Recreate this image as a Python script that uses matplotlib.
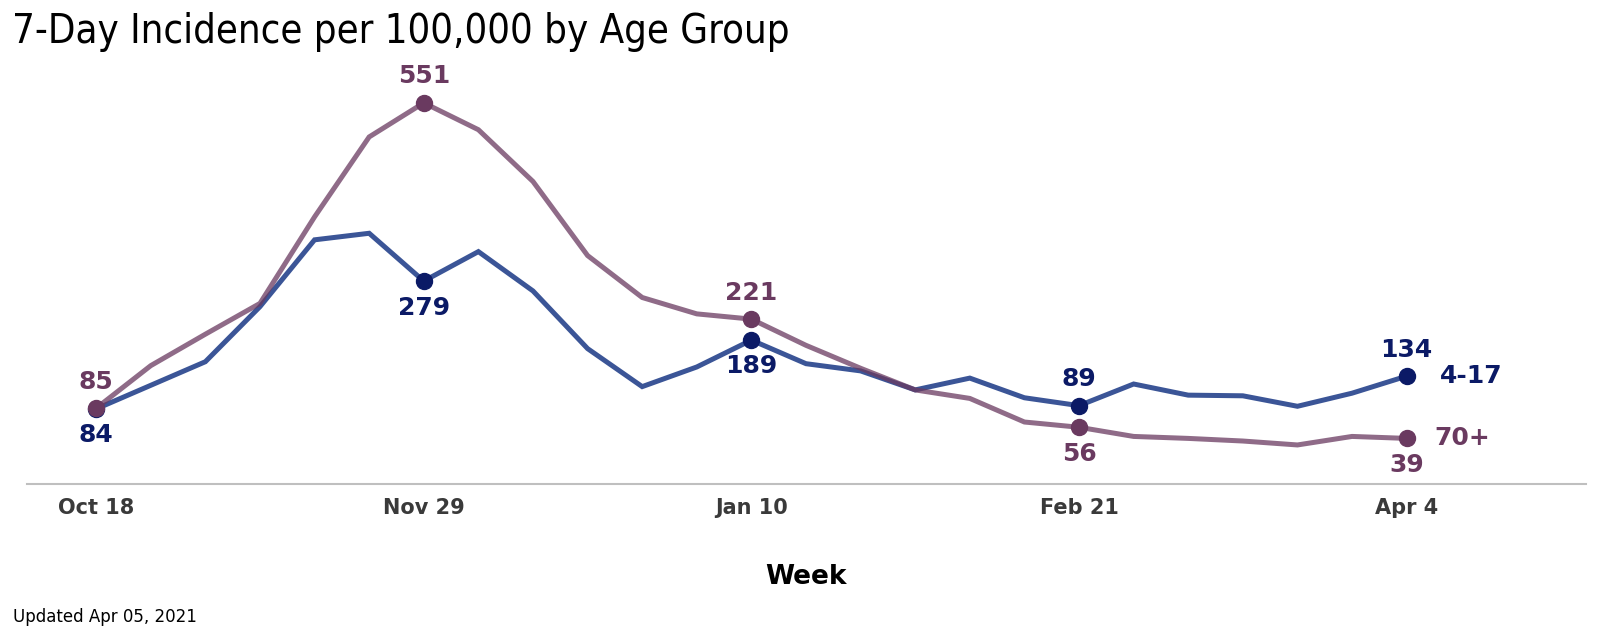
import pandas as pd
import matplotlib
matplotlib.use("Agg")
import matplotlib.pyplot as plt

# weekly 7-day incidence per 100,000
weeks = pd.date_range("2020-10-18", periods=25, freq="7D")
age_4_17 = [84, 120, 156, 240, 342, 352, 279, 324, 264, 176, 118, 148, 189,
            153, 142, 113, 131, 101, 89, 122, 105, 104, 88, 108, 134]
age_70_plus = [85, 150, 198, 245, 377, 499, 551, 510, 431, 318, 254, 229, 221,
               181, 146, 113, 100, 64, 56, 42, 39, 35, 29, 42, 39]
group_names = ["4-17", "70+"]
marked_weeks = [0, 6, 12, 18, 24]
tick_labels = ["Oct 18", "Nov 29", "Jan 10", "Feb 21", "Apr 4"]

plt.rcParams['font.family'] = ['DejaVu Sans']

blue_line, blue_dark = '#3b5597', '#0b1a66'
purple_dark = '#6a3a60'

fig = plt.figure(figsize=(16, 6.41), dpi=100)
ax = fig.add_axes([0.0167, 0.2445, 0.9746, 0.6615])

ax.plot(weeks, age_4_17, color=blue_line, lw=3.6, solid_joinstyle='miter', zorder=2)
ax.plot(weeks, age_70_plus, color=purple_dark, alpha=0.75, lw=3.6, solid_joinstyle='miter', zorder=3)

for i in marked_weeks:
    a, b = age_4_17[i], age_70_plus[i]
    ax.plot(weeks[i], a, 'o', ms=11.5, color=blue_dark, zorder=4)
    ax.plot(weeks[i], b, 'o', ms=11.5, color=purple_dark, zorder=5)
    off_a = 19 if a > b else -19
    ax.annotate(str(a), (weeks[i], a), xytext=(0, off_a), textcoords='offset points',
                ha='center', va='center', fontsize=18, fontweight='bold', color=blue_dark)
    ax.annotate(str(b), (weeks[i], b), xytext=(0, -off_a), textcoords='offset points',
                ha='center', va='center', fontsize=18, fontweight='bold', color=purple_dark)

# series names at the end of the lines
ax.annotate(group_names[0], (weeks[-1], age_4_17[-1]), xytext=(24, 0), textcoords='offset points',
            ha='left', va='center', fontsize=18, fontweight='bold', color=blue_dark)
ax.annotate(group_names[1], (weeks[-1], age_70_plus[-1]), xytext=(20, 0), textcoords='offset points',
            ha='left', va='center', fontsize=18, fontweight='bold', color=purple_dark)

ax.set_xlim(weeks[0] - pd.Timedelta(days=8.9), weeks[0] + pd.Timedelta(days=191))
ax.set_ylim(-31, 616)
ax.set_xticks([weeks[i] for i in marked_weeks])
ax.set_xticklabels(tick_labels, fontsize=15, fontweight='bold', color='#3a3a3a')
ax.tick_params(axis='x', length=0, pad=10)
ax.set_yticks([])
for side in ['top', 'right', 'left']:
    ax.spines[side].set_visible(False)
ax.spines['bottom'].set_color('#bfbfbf')
ax.spines['bottom'].set_linewidth(1.5)

fig.text(0.5035, 1 - 577 / 641, "Week", ha='center', va='center',
         fontsize=19, fontweight='bold', color='black')
fig.text(12 / 1600, 1 - 32 / 641, "7-Day Incidence per 100,000 by Age Group",
         ha='left', va='center', fontsize=28.7, fontstretch='condensed', color='black')
fig.text(13 / 1600, 1 - 617 / 641, "Updated Apr 05, 2021", ha='left', va='center',
         fontsize=12, color='black')

fig.savefig("out.png", dpi=100)
